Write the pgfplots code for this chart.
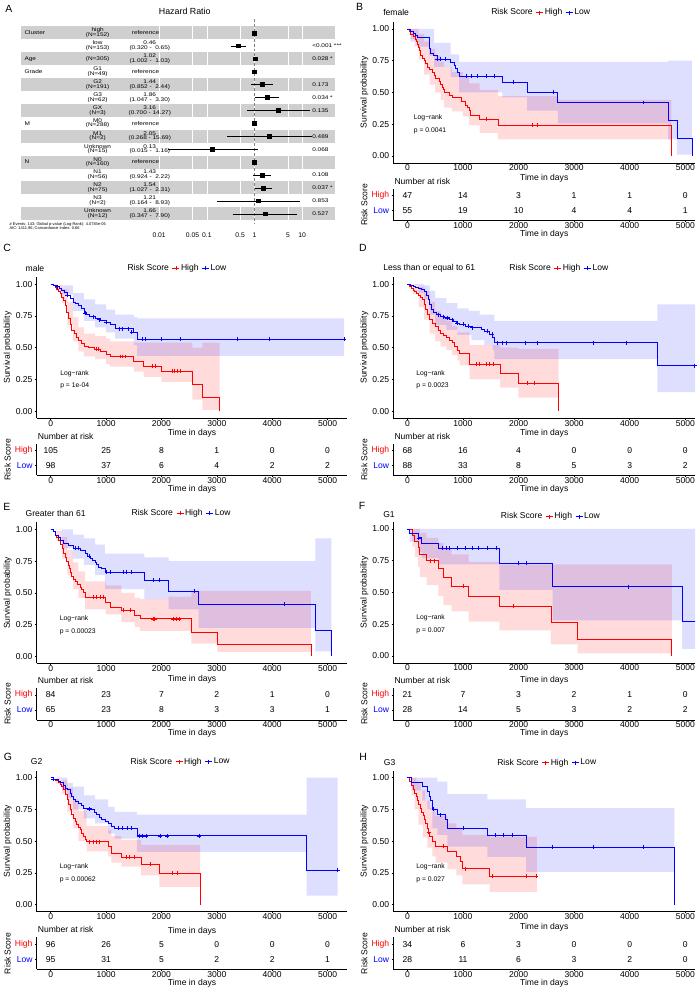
\documentclass[border=0pt]{standalone}
\usepackage{pgfplots}
\pgfplotsset{compat=1.18}
\usepgfplotslibrary{fillbetween}
\usepackage{fontspec}
\setmainfont{Liberation Sans}
\newfontfamily\fpfont[FakeStretch=1.2]{Liberation Sans}
\definecolor{kmred}{RGB}{255,0,0}
\definecolor{kmblue}{RGB}{0,0,255}
\definecolor{fpgray}{RGB}{207,207,207}
\newcommand{\kmfont}{\fontsize{8.6}{10}\selectfont}
\newcommand{\smfont}{\fontsize{6.8}{8}\selectfont}
\newcommand{\fpf}{\fpfont\fontsize{5.4}{4.75}\selectfont\lineskiplimit=-10pt}
\newcommand{\letterfont}{\fontsize{10.5}{12}\selectfont}

\pgfplotsset{
  kmbase/.style={scale only axis, axis lines=left,
    axis line style={line width=0.5bp, black, -},
    tick align=outside, major tick length=1.6bp,
    tick style={line width=0.5bp, black},
    xtick={0,1000,2000,3000,4000,5000},
    xticklabels={0,1000,2000,3000,4000,5000},
    tick label style={font=\kmfont},
    xticklabel style={inner sep=0.3bp},
    yticklabel style={inner xsep=2.4bp},
    label style={font=\kmfont},
    xlabel={Time in days},
    xlabel style={inner sep=1bp},
  },
  kmL/.style={kmbase, width=311bp, xmin=-254, xmax=5358},
  kmR/.style={kmbase, width=302bp, xmin=-253, xmax=5176},
  kmmain/.style={height=140.97bp, ymin=-0.055, ymax=1.055,
    ytick={0,0.25,0.5,0.75,1}, yticklabels={0.00,0.25,0.50,0.75,1.00},
    ylabel={Survival probability}, ylabel style={inner sep=1.5bp},
    legend columns=-1,
    legend style={draw=none, fill=none, font=\kmfont, inner sep=0pt, anchor=west,
      /tikz/every even column/.append style={column sep=2bp},
      nodes={inner sep=1.2bp}},
    legend image code/.code={\draw[mark repeat=2, mark phase=2, ##1] plot coordinates {(0bp,0bp) (3.5bp,0bp) (7bp,0bp)};},
    title style={anchor=west, font=\kmfont, inner sep=0pt, yshift=-6pt},
  },
  kmtab/.style={height=32bp, ymin=0.333, ymax=2.467, ytick={1,2},
    yticklabels={\textcolor{kmblue}{Low},\textcolor{kmred}{High}},
    ylabel={Risk Score}, ylabel style={inner sep=1.5bp},
    title={Number at risk}, title style={at={(0,1)}, anchor=south west, font=\kmfont, inner sep=1bp, yshift=-2.8bp},
  },
  risknum/.style={only marks, mark=*, mark size=0.01pt,
    scatter/use mapped color={draw=none, fill=none},
    mark options={draw=none, fill=none},
    nodes near coords, point meta=explicit symbolic,
    every node near coord/.append style={anchor=center, font=\kmfont, text=black, inner sep=0pt}},
  band/.style={const plot, draw=none, forget plot},
  hi/.style={const plot, kmred, line width=0.7bp, forget plot},
  lo/.style={const plot, kmblue, line width=0.7bp, forget plot},
  cens/.style={only marks, mark=+, mark size=2bp, line width=0.5bp, forget plot},
  rfill/.style={kmred, fill opacity=0.14, draw=none},
  bfill/.style={kmblue, fill opacity=0.13, draw=none},
}
\newcommand{\kmlegend}{%
  \addlegendimage{empty legend}\addlegendentry{Risk Score}
  \addlegendimage{kmred,line width=0.7bp,mark=+,mark size=2bp}\addlegendentry{High}
  \addlegendimage{kmblue,line width=0.7bp,mark=+,mark size=2bp}\addlegendentry{Low}}

\begin{document}
\begin{tikzpicture}
\path (0,0) rectangle (696bp,-991bp);

%================ Panel A: forest plot ================
\begin{scope}[x=1bp,y=-1bp]
\foreach \r in {1,3,5,7,9,11,13,15}{
  \fill[fpgray] (18.3,{32+(\r-1)*12.93-6.465}) rectangle (333,{32+(\r-1)*12.93+6.465});}
\end{scope}

\begin{axis}[at={(18.3bp,-219.45bp)}, anchor=south west, scale only axis,
  width=314.7bp, height=193.95bp,
  xmode=log, xmin=1.253e-5, xmax=48.8, ymin=-15.5, ymax=-0.5,
  axis line style={draw=none}, ytick=\empty,
  xtick={0.01,0.05,0.1,0.5,1,5,10}, xticklabels={0.01,0.05,0.1,0.5,1,5,10},
  major tick length=0pt, xmajorgrids, grid style={white, line width=0.5bp},
  xticklabel style={font=\fontsize{6.8}{8}\selectfont, yshift=-9bp},
  clip=false]
\addplot[gray, densely dashed, line width=0.4bp] coordinates {(1,0.1) (1,-15.7)};
\addplot[black, line width=0.4bp] coordinates {(0.320,-2) (0.65,-2)};
\addplot[black, line width=0.4bp] coordinates {(1.002,-3) (1.03,-3)};
\addplot[black, line width=0.4bp] coordinates {(0.852,-5) (2.44,-5)};
\addplot[black, line width=0.4bp] coordinates {(1.047,-6) (3.30,-6)};
\addplot[black, line width=0.4bp] coordinates {(0.700,-7) (14.27,-7)};
\addplot[black, line width=0.4bp] coordinates {(0.268,-9) (15.69,-9)};
\addplot[black, line width=0.4bp] coordinates {(0.015,-10) (1.16,-10)};
\addplot[black, line width=0.4bp] coordinates {(0.924,-12) (2.22,-12)};
\addplot[black, line width=0.4bp] coordinates {(1.027,-13) (2.31,-13)};
\addplot[black, line width=0.4bp] coordinates {(0.164,-14) (8.93,-14)};
\addplot[black, line width=0.4bp] coordinates {(0.347,-15) (7.90,-15)};
\addplot[only marks, mark=square*, mark size=1.9bp, black] coordinates {
 (1,-1) (0.46,-2) (1.02,-3) (1,-4) (1.44,-5) (1.86,-6) (3.16,-7) (1,-8)
 (2.05,-9) (0.13,-10) (1,-11) (1.43,-12) (1.54,-13) (1.21,-14) (1.66,-15)};
\end{axis}

\begin{scope}[x=1bp,y=-1bp]
\node[font=\letterfont] at (6.5,7.8) {A};
\node[font=\fontsize{8.9}{10}\selectfont] at (182.5,10) {Hazard Ratio};
\node[anchor=west, font=\fpf, inner sep=0] at (22,32.0) {Cluster};
\node[anchor=west, font=\fpf, inner sep=0] at (22,57.9) {Age};
\node[anchor=west, font=\fpf, inner sep=0] at (22,70.8) {Grade};
\node[anchor=west, font=\fpf, inner sep=0] at (22,122.5) {M};
\node[anchor=west, font=\fpf, inner sep=0] at (22,161.3) {N};
\foreach \y/\t in {32.0/{high\\(N=152)}, 44.9/{low\\(N=153)}, 57.9/{(N=305)},
  70.8/{G1\\(N=49)}, 83.7/{G2\\(N=191)}, 96.7/{G3\\(N=62)}, 109.6/{GX\\(N=3)},
  122.5/{M0\\(N=288)}, 135.4/{M1\\(N=2)}, 148.4/{Unknown\\(N=15)},
  161.3/{N0\\(N=160)}, 174.2/{N1\\(N=56)}, 187.2/{N2\\(N=75)},
  200.1/{N3\\(N=2)}, 213.0/{Unknown\\(N=12)}}
  {\node[align=center, font=\fpf, inner sep=0] at (95.3,\y) {\t};}
\foreach \y in {32.0,70.8,122.5,161.3}
  {\node[font=\fpf, inner sep=0] at (143.3,\y) {reference};}
\foreach \y/\t in {44.9/{0.46\\(0.320 -\ \ 0.65)}, 57.9/{1.02\\(1.002 -\ \ 1.03)},
  83.7/{1.44\\(0.852 -\ \ 2.44)}, 96.7/{1.86\\(1.047 -\ \ 3.30)},
  109.6/{3.16\\(0.700 - 14.27)}, 135.4/{2.05\\(0.268 - 15.69)},
  148.4/{0.13\\(0.015 -\ \ 1.16)}, 174.2/{1.43\\(0.924 -\ \ 2.22)},
  187.2/{1.54\\(1.027 -\ \ 2.31)}, 200.1/{1.21\\(0.164 -\ \ 8.93)},
  213.0/{1.66\\(0.347 -\ \ 7.90)}}
  {\node[align=center, font=\fpf, inner sep=0] at (147.5,\y) {\t};}
\foreach \y/\t in {44.9/{<0.001 ***}, 57.9/{0.028 *}, 83.7/{0.173}, 96.7/{0.034 *},
  109.6/{0.135}, 135.4/{0.489}, 148.4/{0.068}, 174.2/{0.108}, 187.2/{0.037 *},
  200.1/{0.853}, 213.0/{0.527}}
  {\node[anchor=west, font=\fpf, inner sep=0] at (310,\y) {\t};}
\node[anchor=west, font=\fontsize{4}{4.5}\selectfont, inner sep=0] at (7,223.3) {\# Events: 143; Global p-value (Log-Rank): 4.0783e-06};
\node[anchor=west, font=\fontsize{4}{4.5}\selectfont, inner sep=0] at (7,227.7) {AIC: 1411.96; Concordance Index: 0.66};
\node[font=\letterfont] at (357.5,6) {B};
\node[font=\letterfont] at (4.7,247) {C};
\node[font=\letterfont] at (360.8,247) {D};
\node[font=\letterfont] at (4.5,506.3) {E};
\node[font=\letterfont] at (360,505.7) {F};
\node[font=\letterfont] at (5.5,756.3) {G};
\node[font=\letterfont] at (361,756.7) {H};
\end{scope}

%================ Panel B: female ================
\begin{axis}[kmR, kmmain, at={(391.3bp,-162bp)}, anchor=south west,
  title={female}, title style={at={(-0.034,1.066)}},
  legend style={at={(0.320,1.066)}}, xlabel style={yshift=-2bp}]
\kmlegend
\addplot[band, name path=Bru] coordinates {(0,1) (100,1) (200,0.96) (300,0.90) (400,0.84) (500,0.79) (600,0.74) (660,0.70) (800,0.66) (1000,0.62) (1110,0.57) (1300,0.52) (1630,0.47) (2700,0.44) (4750,0.44)};
\addplot[band, name path=Brl] coordinates {(0,1) (60,0.92) (130,0.86) (200,0.76) (300,0.64) (400,0.56) (500,0.50) (600,0.44) (660,0.38) (800,0.35) (1000,0.31) (1110,0.24) (1300,0.18) (1630,0.13) (4750,0.13)};
\addplot[rfill] fill between[of=Bru and Brl];
\addplot[band, name path=Bbu] coordinates {(0,1) (420,1) (480,0.89) (780,0.80) (930,0.74) (4690,0.75) (5120,0.75)};
\addplot[band, name path=Bbl] coordinates {(0,1) (60,0.90) (180,0.86) (390,0.79) (480,0.70) (780,0.62) (930,0.50) (1710,0.46) (2155,0.355) (2707,0.255) (4690,0.13) (4850,0.01) (5120,0.01)};
\addplot[bfill] fill between[of=Bbu and Bbl];
\addplot[hi] coordinates {(0,1) (30,0.98) (60,0.96) (100,0.94) (140,0.92) (160,0.90) (180,0.877) (200,0.855) (220,0.83) (240,0.79) (270,0.77) (300,0.75) (330,0.725) (360,0.70) (400,0.68) (450,0.66) (480,0.635) (510,0.61) (570,0.585) (600,0.56) (620,0.54) (640,0.52) (660,0.50) (750,0.48) (800,0.46) (975,0.43) (1050,0.40) (1080,0.38) (1110,0.355) (1140,0.316) (1290,0.29) (1630,0.24) (4750,0)};
\addplot[lo] coordinates {(0,1) (50,0.98) (100,0.965) (140,0.95) (180,0.93) (390,0.85) (420,0.81) (470,0.79) (530,0.76) (780,0.74) (840,0.71) (870,0.69) (900,0.66) (930,0.63) (1710,0.58) (2155,0.50) (2707,0.42) (4690,0.28) (4850,0.14) (5120,0)};
\addplot[cens, kmred] coordinates {(1420,0.29) (2250,0.24) (2330,0.24)};
\addplot[cens, kmblue] coordinates {(540,0.76) (600,0.76) (690,0.76) (1050,0.63) (1150,0.63) (1250,0.63) (1420,0.63) (1560,0.63) (1900,0.58) (2620,0.50) (4250,0.42)};
\node[anchor=west, font=\smfont] at (axis cs:55,0.297) {Log−rank};
\node[anchor=west, font=\smfont] at (axis cs:55,0.195) {p = 0.0041};
\end{axis}
\begin{axis}[kmR, kmtab, at={(391.3bp,-220bp)}, anchor=south west]
\addplot[risknum] coordinates {(0,2)[47] (1000,2)[14] (2000,2)[3] (3000,2)[1] (4000,2)[1] (5000,2)[0]
 (0,1)[55] (1000,1)[19] (2000,1)[10] (3000,1)[4] (4000,1)[4] (5000,1)[1]};
\end{axis}

%================ Panel C: male ================
\begin{axis}[kmL, kmmain, at={(34.3bp,-417.5bp)}, anchor=south west,
  title={male}, title style={at={(-0.036,1.064)}},
  legend style={at={(0.288,1.064)}}, xlabel style={yshift=-1.5bp}]
\kmlegend
\addplot[band, name path=Cru] coordinates {(0,1) (100,0.995) (200,0.96) (300,0.86) (400,0.74) (500,0.66) (600,0.61) (800,0.59) (1000,0.57) (1075,0.55) (1500,0.54) (2560,0.50) (2740,0.54) (3050,0.54)};
\addplot[band, name path=Crl] coordinates {(0,1) (100,0.95) (200,0.85) (300,0.68) (400,0.55) (500,0.47) (600,0.43) (800,0.41) (1000,0.37) (1075,0.35) (1500,0.31) (1680,0.27) (2000,0.23) (2560,0.09) (2740,0.01) (3050,0.01)};
\addplot[rfill] fill between[of=Cru and Crl];
\addplot[band, name path=Cbu] coordinates {(0,1) (200,0.99) (400,0.93) (600,0.88) (800,0.84) (1000,0.80) (1165,0.76) (1500,0.74) (1560,0.73) (5300,0.73)};
\addplot[band, name path=Cbl] coordinates {(0,1) (200,0.92) (400,0.79) (600,0.71) (800,0.66) (1000,0.62) (1165,0.57) (1500,0.52) (1560,0.435) (5300,0.435)};
\addplot[bfill] fill between[of=Cbu and Cbl];
\addplot[hi] coordinates {(0,1) (40,0.99) (80,0.975) (110,0.96) (140,0.945) (170,0.925) (200,0.90) (230,0.87) (260,0.83) (290,0.78) (320,0.73) (350,0.68) (380,0.64) (420,0.61) (460,0.58) (500,0.555) (550,0.53) (600,0.51) (680,0.50) (780,0.49) (900,0.47) (1000,0.45) (1075,0.43) (1500,0.395) (1680,0.355) (2000,0.316) (2560,0.21) (2740,0.105) (3050,0)};
\addplot[lo] coordinates {(0,1) (50,0.99) (100,0.98) (150,0.97) (200,0.955) (250,0.935) (300,0.915) (350,0.885) (400,0.86) (450,0.845) (500,0.83) (550,0.81) (600,0.78) (650,0.76) (700,0.745) (800,0.73) (900,0.715) (1000,0.70) (1075,0.684) (1165,0.65) (1500,0.62) (1560,0.565) (5300,0.565)};
\addplot[cens, kmred] coordinates {(820,0.49) (860,0.49) (1260,0.43) (1300,0.43) (1350,0.43) (1830,0.355) (1890,0.355) (2190,0.316) (2240,0.316) (2290,0.316) (2340,0.316)};
\addplot[cens, kmblue] coordinates {(120,0.98) (300,0.915) (620,0.77) (760,0.745) (880,0.72) (1000,0.70) (1230,0.65) (1300,0.65) (1400,0.65) (1460,0.62) (1650,0.565) (1710,0.565) (2000,0.565) (2340,0.565) (3370,0.565) (3945,0.565) (5300,0.565)};
\node[anchor=west, font=\smfont] at (axis cs:110,0.297) {Log−rank};
\node[anchor=west, font=\smfont] at (axis cs:110,0.195) {p = 1e-04};
\end{axis}
\begin{axis}[kmL, kmtab, at={(34.3bp,-475bp)}, anchor=south west]
\addplot[risknum] coordinates {(0,2)[105] (1000,2)[25] (2000,2)[8] (3000,2)[1] (4000,2)[0] (5000,2)[0]
 (0,1)[98] (1000,1)[37] (2000,1)[6] (3000,1)[4] (4000,1)[2] (5000,1)[2]};
\end{axis}

%================ Panel D: <= 61 ================
\begin{axis}[kmR, kmmain, at={(391.3bp,-417.5bp)}, anchor=south west,
  title={Less than or equal to 61}, title style={at={(-0.034,1.064)}},
  legend style={at={(0.380,1.064)}}, xlabel style={yshift=-1.5bp}]
\kmlegend
\addplot[band, name path=Dru] coordinates {(0,1) (200,0.98) (300,0.95) (400,0.86) (500,0.79) (600,0.74) (700,0.71) (800,0.67) (900,0.62) (1120,0.52) (1670,0.50) (1995,0.49) (2720,0.49)};
\addplot[band, name path=Drl] coordinates {(0,1) (100,0.92) (200,0.82) (300,0.72) (400,0.61) (500,0.55) (600,0.51) (700,0.48) (800,0.44) (900,0.40) (940,0.36) (1120,0.25) (1670,0.185) (1995,0.105) (2720,0.105)};
\addplot[rfill] fill between[of=Dru and Drl];
\addplot[band, name path=Dbu] coordinates {(0,1) (300,0.99) (400,0.95) (500,0.89) (700,0.85) (900,0.81) (1100,0.79) (1300,0.76) (1565,0.71) (4500,0.84) (5200,0.84)};
\addplot[band, name path=Dbl] coordinates {(0,1) (200,0.93) (300,0.88) (400,0.76) (500,0.68) (700,0.64) (900,0.60) (1150,0.56) (1385,0.52) (1535,0.48) (1565,0.41) (4500,0.15) (5200,0.15)};
\addplot[bfill] fill between[of=Dbu and Dbl];
\addplot[hi] coordinates {(0,1) (30,0.985) (70,0.97) (100,0.955) (130,0.94) (160,0.925) (190,0.91) (230,0.895) (270,0.88) (300,0.84) (330,0.80) (360,0.76) (400,0.72) (450,0.69) (500,0.665) (550,0.64) (600,0.615) (650,0.60) (700,0.58) (750,0.56) (800,0.54) (850,0.51) (900,0.48) (940,0.455) (1120,0.368) (1670,0.295) (1995,0.218) (2720,0)};
\addplot[lo] coordinates {(0,1) (50,0.99) (100,0.985) (150,0.975) (200,0.97) (250,0.96) (300,0.94) (340,0.91) (370,0.88) (400,0.84) (430,0.80) (470,0.78) (520,0.76) (600,0.745) (670,0.735) (750,0.72) (820,0.71) (880,0.695) (940,0.684) (1050,0.67) (1150,0.658) (1325,0.645) (1385,0.63) (1475,0.605) (1535,0.58) (1565,0.54) (4500,0.358) (5200,0.358)};
\addplot[cens, kmred] coordinates {(1240,0.368) (1300,0.368) (1420,0.368) (1470,0.368) (1550,0.368) (2160,0.218) (2280,0.218)};
\addplot[cens, kmblue] coordinates {(560,0.76) (640,0.745) (720,0.735) (800,0.72) (900,0.695) (1000,0.684) (1100,0.67) (1160,0.658) (1440,0.63) (1520,0.605) (1625,0.54) (1715,0.54) (1775,0.54) (2120,0.54) (2330,0.54) (3345,0.54) (3943,0.54) (5170,0.358)};
\node[anchor=west, font=\smfont] at (axis cs:100,0.297) {Log−rank};
\node[anchor=west, font=\smfont] at (axis cs:100,0.195) {p = 0.0023};
\end{axis}
\begin{axis}[kmR, kmtab, at={(391.3bp,-475bp)}, anchor=south west]
\addplot[risknum] coordinates {(0,2)[68] (1000,2)[16] (2000,2)[4] (3000,2)[0] (4000,2)[0] (5000,2)[0]
 (0,1)[88] (1000,1)[33] (2000,1)[8] (3000,1)[5] (4000,1)[3] (5000,1)[2]};
\end{axis}

%================ Panel E: > 61 ================
\begin{axis}[kmL, kmmain, at={(34.3bp,-663bp)}, anchor=south west,
  title={Greater than 61}, title style={at={(-0.036,1.066)}},
  legend style={at={(0.301,1.066)}}, xlabel style={yshift=-2bp}]
\kmlegend
\addplot[band, name path=Eru] coordinates {(0,1) (100,0.99) (200,0.94) (300,0.84) (400,0.74) (500,0.67) (621,0.59) (992,0.56) (1278,0.50) (1517,0.46) (1610,0.45) (2130,0.47) (2540,0.515) (4700,0.515)};
\addplot[band, name path=Erl] coordinates {(0,1) (100,0.91) (200,0.77) (300,0.64) (400,0.53) (500,0.46) (621,0.37) (992,0.33) (1278,0.27) (1517,0.23) (1610,0.20) (2540,0.10) (3010,0.035) (4700,0.035)};
\addplot[rfill] fill between[of=Eru and Erl];
\addplot[band, name path=Ebu] coordinates {(0,1) (200,1) (400,0.96) (600,0.93) (800,0.88) (980,0.81) (1690,0.78) (2130,0.75) (4780,0.93) (5070,0.93)};
\addplot[band, name path=Ebl] coordinates {(0,1) (200,0.85) (400,0.77) (600,0.72) (800,0.64) (980,0.53) (1690,0.45) (2130,0.37) (2670,0.225) (4780,0.04) (5070,0.04)};
\addplot[bfill] fill between[of=Ebu and Ebl];
\addplot[hi] coordinates {(0,1) (40,0.985) (84,0.955) (110,0.94) (143,0.915) (170,0.88) (203,0.85) (230,0.81) (263,0.78) (290,0.75) (323,0.72) (340,0.69) (352,0.66) (380,0.63) (412,0.61) (440,0.59) (472,0.57) (532,0.546) (560,0.525) (591,0.507) (621,0.467) (992,0.427) (1069,0.388) (1278,0.362) (1517,0.322) (1610,0.296) (2540,0.19) (3010,0.092) (4700,0)};
\addplot[lo] coordinates {(0,1) (40,0.985) (84,0.955) (130,0.935) (173,0.915) (233,0.89) (323,0.876) (412,0.85) (532,0.836) (621,0.81) (660,0.79) (711,0.77) (760,0.757) (800,0.744) (830,0.725) (860,0.705) (920,0.69) (980,0.665) (1690,0.60) (2130,0.512) (2670,0.409) (4780,0.205) (5070,0)};
\addplot[cens, kmred] coordinates {(770,0.467) (830,0.467) (890,0.467) (950,0.467) (1310,0.362) (1430,0.362) (1846,0.296) (1876,0.296) (2204,0.296) (2264,0.296) (2324,0.296)};
\addplot[cens, kmblue] coordinates {(440,0.85) (500,0.85) (700,0.79) (1010,0.665) (1070,0.665) (1310,0.665) (1370,0.665) (1460,0.665) (1850,0.60) (1960,0.60) (2590,0.512) (4210,0.409)};
\node[anchor=west, font=\smfont] at (axis cs:100,0.297) {Log−rank};
\node[anchor=west, font=\smfont] at (axis cs:100,0.195) {p = 0.00023};
\end{axis}
\begin{axis}[kmL, kmtab, at={(34.3bp,-719.5bp)}, anchor=south west]
\addplot[risknum] coordinates {(0,2)[84] (1000,2)[23] (2000,2)[7] (3000,2)[2] (4000,2)[1] (5000,2)[0]
 (0,1)[65] (1000,1)[23] (2000,1)[8] (3000,1)[3] (4000,1)[3] (5000,1)[1]};
\end{axis}

%================ Panel F: G1 ================
\begin{axis}[kmR, kmmain, at={(391.3bp,-662.5bp)}, anchor=south west,
  title={G1}, title style={at={(-0.034,1.055)}},
  legend style={at={(0.352,1.038)}}, xlabel style={yshift=-4bp}]
\kmlegend
\addplot[band, name path=Fru] coordinates {(0,1) (133,1) (224,0.97) (345,0.93) (556,0.89) (647,0.85) (798,0.80) (1100,0.74) (1657,0.72) (4758,0.72)};
\addplot[band, name path=Frl] coordinates {(0,1) (90,0.86) (133,0.78) (193,0.70) (224,0.62) (345,0.56) (556,0.47) (647,0.40) (798,0.35) (1100,0.27) (1657,0.20) (2582,0.09) (3065,0.02) (4758,0.02)};
\addplot[rfill] fill between[of=Fru and Frl];
\addplot[band, name path=Fbu] coordinates {(0,1) (5270,1)};
\addplot[band, name path=Fbl] coordinates {(0,1) (42,0.90) (200,0.82) (254,0.77) (556,0.72) (1657,0.52) (2612,0.28) (4940,0.055) (5270,0.055)};
\addplot[bfill] fill between[of=Fbu and Fbl];
\addplot[hi] coordinates {(0,1) (90,0.952) (133,0.905) (193,0.857) (224,0.80) (345,0.75) (556,0.69) (647,0.62) (798,0.55) (1100,0.47) (1657,0.39) (2582,0.26) (3065,0.13) (4758,0)};
\addplot[lo] coordinates {(0,1) (42,0.965) (200,0.93) (254,0.89) (556,0.85) (1657,0.73) (2612,0.545) (4940,0.27) (5270,0.27)};
\addplot[cens, kmred] coordinates {(420,0.75) (480,0.75) (1000,0.55) (1900,0.39)};
\addplot[cens, kmblue] coordinates {(200,0.93) (620,0.85) (700,0.85) (760,0.85) (900,0.85) (1040,0.85) (1160,0.85) (1280,0.85) (1440,0.85) (1600,0.85) (1990,0.73) (2140,0.73) (3970,0.545)};
\node[anchor=west, font=\smfont] at (axis cs:100,0.297) {Log−rank};
\node[anchor=west, font=\smfont] at (axis cs:100,0.195) {p = 0.007};
\end{axis}
\begin{axis}[kmR, kmtab, at={(391.3bp,-719.5bp)}, anchor=south west]
\addplot[risknum] coordinates {(0,2)[21] (1000,2)[7] (2000,2)[3] (3000,2)[2] (4000,2)[1] (5000,2)[0]
 (0,1)[28] (1000,1)[14] (2000,1)[5] (3000,1)[3] (4000,1)[2] (5000,1)[2]};
\end{axis}

%================ Panel G: G2 ================
\begin{axis}[kmL, kmmain, at={(34.3bp,-911.5bp)}, anchor=south west,
  title={G2}, title style={at={(-0.019,1.064)}},
  legend style={at={(0.298,1.064)}}, xlabel style={yshift=-6.5bp}]
\kmlegend
\addplot[band, name path=Gru] coordinates {(0,1) (100,1) (200,0.98) (300,0.92) (400,0.83) (500,0.74) (650,0.62) (1037,0.59) (1097,0.54) (1276,0.51) (1633,0.47) (1961,0.47) (2700,0.47)};
\addplot[band, name path=Grl] coordinates {(0,1) (100,0.95) (200,0.87) (300,0.73) (400,0.60) (500,0.50) (650,0.42) (1037,0.38) (1097,0.33) (1276,0.30) (1633,0.23) (1961,0.14) (2700,0.14)};
\addplot[rfill] fill between[of=Gru and Grl];
\addplot[band, name path=Gbu] coordinates {(0,1) (200,1) (300,0.96) (400,0.93) (600,0.86) (800,0.83) (1037,0.77) (1156,0.73) (1556,0.71) (4620,1) (5180,1)};
\addplot[band, name path=Gbl] coordinates {(0,1) (200,0.90) (300,0.84) (400,0.75) (600,0.68) (800,0.64) (1037,0.56) (1156,0.52) (1556,0.415) (4620,0.07) (5180,0.07)};
\addplot[bfill] fill between[of=Gbu and Gbl];
\addplot[hi] coordinates {(0,1) (40,0.99) (83,0.98) (130,0.965) (173,0.95) (200,0.93) (232,0.91) (260,0.87) (292,0.83) (320,0.79) (352,0.75) (380,0.715) (411,0.68) (440,0.655) (471,0.63) (500,0.61) (530,0.59) (560,0.56) (590,0.537) (620,0.515) (650,0.497) (1037,0.458) (1097,0.405) (1276,0.373) (1633,0.317) (1961,0.25) (2700,0)};
\addplot[lo] coordinates {(0,1) (40,0.99) (83,0.987) (130,0.975) (173,0.96) (220,0.94) (262,0.92) (300,0.905) (352,0.88) (380,0.855) (411,0.83) (450,0.815) (500,0.80) (550,0.78) (590,0.76) (650,0.755) (740,0.75) (780,0.73) (828,0.71) (870,0.69) (918,0.67) (980,0.655) (1037,0.643) (1100,0.62) (1156,0.60) (1556,0.542) (4620,0.272) (5180,0.272)};
\addplot[cens, kmred] coordinates {(700,0.497) (760,0.497) (820,0.497) (880,0.497) (1360,0.373) (1420,0.373) (1500,0.373) (1800,0.317) (2200,0.25) (2280,0.25)};
\addplot[cens, kmblue] coordinates {(40,0.99) (700,0.755) (1220,0.6) (1300,0.6) (1380,0.6) (1450,0.6) (1600,0.542) (1660,0.542) (1720,0.542) (1980,0.542) (2100,0.542) (2680,0.542) (5180,0.272)};
\node[anchor=west, font=\smfont] at (axis cs:100,0.297) {Log−rank};
\node[anchor=west, font=\smfont] at (axis cs:100,0.195) {p = 0.00062};
\end{axis}
\begin{axis}[kmL, kmtab, at={(34.3bp,-969.3bp)}, anchor=south west]
\addplot[risknum] coordinates {(0,2)[96] (1000,2)[26] (2000,2)[5] (3000,2)[0] (4000,2)[0] (5000,2)[0]
 (0,1)[95] (1000,1)[31] (2000,1)[5] (3000,1)[2] (4000,1)[2] (5000,1)[1]};
\end{axis}

%================ Panel H: G3 ================
\begin{axis}[kmR, kmmain, at={(391.3bp,-911.5bp)}, anchor=south west,
  title={G3}, title style={at={(-0.032,1.057)}},
  legend style={at={(0.340,1.057)}}, xlabel style={yshift=-2.5bp}]
\kmlegend
\addplot[band, name path=Hru] coordinates {(0,1) (78,1) (162,0.97) (240,0.90) (317,0.82) (401,0.76) (509,0.70) (719,0.64) (880,0.60) (988,0.55) (1479,0.535) (2330,0.535)};
\addplot[band, name path=Hrl] coordinates {(0,1) (78,0.86) (132,0.75) (198,0.63) (281,0.53) (359,0.45) (449,0.38) (509,0.33) (719,0.28) (880,0.23) (988,0.16) (1479,0.10) (2330,0.10)};
\addplot[rfill] fill between[of=Hru and Hrl];
\addplot[band, name path=Hbu] coordinates {(0,1) (449,1) (539,0.97) (719,0.87) (1437,0.83) (2138,0.76) (4802,0.76)};
\addplot[band, name path=Hbl] coordinates {(0,1) (78,0.90) (269,0.82) (359,0.75) (449,0.60) (539,0.55) (719,0.456) (1437,0.377) (2138,0.257) (4802,0.257)};
\addplot[bfill] fill between[of=Hbu and Hbl];
\addplot[hi] coordinates {(0,1) (42,0.97) (78,0.94) (102,0.91) (132,0.88) (162,0.85) (180,0.82) (198,0.79) (240,0.76) (260,0.73) (281,0.70) (300,0.67) (317,0.64) (359,0.60) (380,0.57) (401,0.54) (449,0.50) (509,0.46) (719,0.42) (880,0.38) (958,0.337) (988,0.284) (1479,0.225) (2330,0.225)};
\addplot[lo] coordinates {(0,1) (78,0.964) (269,0.93) (359,0.893) (389,0.857) (420,0.82) (449,0.75) (539,0.71) (690,0.67) (719,0.60) (1437,0.545) (2138,0.455) (4802,0)};
\addplot[cens, kmred] coordinates {(380,0.57) (650,0.46) (1040,0.284) (1530,0.225) (2140,0.225) (2320,0.225)};
\addplot[cens, kmblue] coordinates {(470,0.75) (600,0.71) (1000,0.60) (1580,0.545) (1720,0.545) (1880,0.545) (2600,0.455) (3340,0.455) (4240,0.455)};
\node[anchor=west, font=\smfont] at (axis cs:100,0.297) {Log−rank};
\node[anchor=west, font=\smfont] at (axis cs:100,0.195) {p = 0.027};
\end{axis}
\begin{axis}[kmR, kmtab, at={(391.3bp,-969.3bp)}, anchor=south west]
\addplot[risknum] coordinates {(0,2)[34] (1000,2)[6] (2000,2)[3] (3000,2)[0] (4000,2)[0] (5000,2)[0]
 (0,1)[28] (1000,1)[11] (2000,1)[6] (3000,1)[3] (4000,1)[2] (5000,1)[0]};
\end{axis}

\end{tikzpicture}
\end{document}
